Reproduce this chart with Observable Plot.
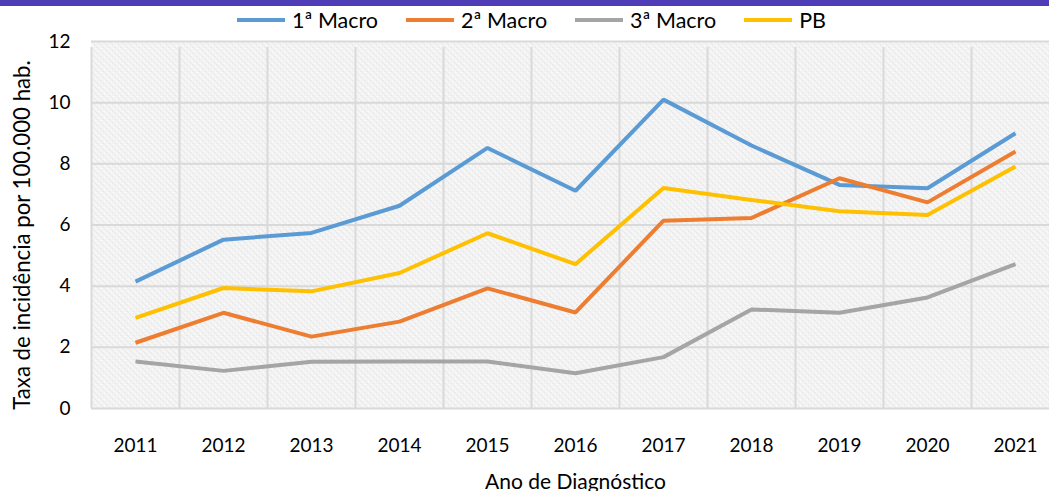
<!DOCTYPE html>
<html>
<head>
<meta charset="utf-8">
<script src="https://cdn.jsdelivr.net/npm/d3@7"></script>
<script src="https://cdn.jsdelivr.net/npm/@observablehq/plot@0.6"></script>
<style>
  html, body { margin: 0; padding: 0; background: #fff; overflow: hidden; width: 1049px; height: 491px; }
  #bar { height: 6px; background: #4F3CB7; }
  #legend { height: 28px; display: flex; justify-content: center; align-items: center; padding-left: 14px;
            font-family: Lato, "Open Sans", sans-serif; font-size: 21.5px; color: #000; box-sizing: border-box; }
  .item { display: flex; align-items: center; margin: 0 14px; }
  .sw { width: 48px; height: 4px; margin-right: 7px; }
  #chart svg { display: block; }
</style>
</head>
<body>
<div id="bar"></div>
<div id="legend"></div>
<div id="chart"></div>
<script>
const years = [2011, 2012, 2013, 2014, 2015, 2016, 2017, 2018, 2019, 2020, 2021];
const seriesNames = ["1ª Macro", "2ª Macro", "3ª Macro", "PB"];
const seriesColors = ["#5B9BD5", "#ED7D31", "#A5A5A5", "#FFC000"];
const macro1 = [4.15, 5.52, 5.74, 6.63, 8.52, 7.12, 10.1, 8.6, 7.31, 7.2, 9.0];
const macro2 = [2.15, 3.13, 2.35, 2.84, 3.93, 3.14, 6.14, 6.23, 7.53, 6.74, 8.4];
const macro3 = [1.54, 1.23, 1.53, 1.54, 1.54, 1.15, 1.68, 3.24, 3.13, 3.63, 4.72];
const pb     = [2.96, 3.94, 3.83, 4.43, 5.73, 4.72, 7.21, 6.82, 6.45, 6.33, 7.91];
const yTicks = [0, 2, 4, 6, 8, 10, 12];
const xLabel = "Ano de Diagnóstico";
const yLabel = "Taxa de incidência por 100.000 hab.";

const seriesValues = [macro1, macro2, macro3, pb];
const data = seriesNames.flatMap((s, i) => years.map((yr, j) => ({serie: s, year: yr, value: seriesValues[i][j]})));
const bounds = d3.range(years.length + 1).map(i => years[0] - 0.5 + i);

// legend
const legend = document.getElementById("legend");
seriesNames.forEach((s, i) => {
  const it = document.createElement("div");
  it.className = "item";
  const sw = document.createElement("div");
  sw.className = "sw";
  sw.style.background = seriesColors[i];
  const tx = document.createElement("span");
  tx.textContent = s;
  it.appendChild(sw); it.appendChild(tx);
  legend.appendChild(it);
});

const plot = Plot.plot({
  width: 1049,
  height: 457,
  marginTop: 7,
  marginBottom: 83,
  marginLeft: 91,
  marginRight: -10,
  x: {domain: [years[0] - 0.5, years[years.length - 1] + 0.5]},
  y: {domain: [0, 12]},
  color: {domain: seriesNames, range: seriesColors},
  style: {fontFamily: "Lato, 'Open Sans', sans-serif", fontSize: "19px", color: "#000", overflow: "visible"},
  marks: [
    Plot.frame({fill: "url(#hatch)", stroke: null}),
    Plot.ruleY(yTicks, {stroke: "#d9d9d9", strokeWidth: 2}),
    Plot.ruleX(bounds, {y1: 0, y2: 12, insetBottom: -6, stroke: "#d9d9d9", strokeWidth: 2}),
    Plot.axisX(years, {tickSize: 0, tickPadding: 30, tickFormat: d => String(d), label: null, fontSize: 19, fill: "#000"}),
    Plot.axisX({ticks: [], tickSize: 0, label: xLabel, labelAnchor: "center", labelArrow: "none", labelOffset: 80, fontSize: 21, fill: "#000"}),
    Plot.axisY(yTicks, {tickSize: 0, tickPadding: 21, label: null, fontSize: 19, fill: "#000"}),
    Plot.text([yLabel], {frameAnchor: "left", rotate: -90, textAnchor: "middle", lineAnchor: "top", dx: -77, dy: 10, fontSize: 22.2, fill: "#000"}),
    Plot.line(data, {x: "year", y: "value", z: "serie", stroke: "serie", strokeWidth: 4, strokeLinejoin: "miter", strokeLinecap: "butt"})
  ]
});

// hatched background pattern
const ns = "http://www.w3.org/2000/svg";
const defs = document.createElementNS(ns, "defs");
defs.innerHTML = `<pattern id="hatch" patternUnits="userSpaceOnUse" width="6" height="6">
  <rect width="6" height="6" fill="#f8f8f8"/>
  <path d="M0,0 L2.5,2.5 M3,3 L5.5,5.5" stroke="#d6d6d6" stroke-width="1"/>
  <path d="M3,0 L4.5,1.5 M0,3 L1.5,4.5" stroke="#e6e6e6" stroke-width="1"/>
</pattern>`;
plot.insertBefore(defs, plot.firstChild);
document.getElementById("chart").appendChild(plot);
</script>
</body>
</html>
